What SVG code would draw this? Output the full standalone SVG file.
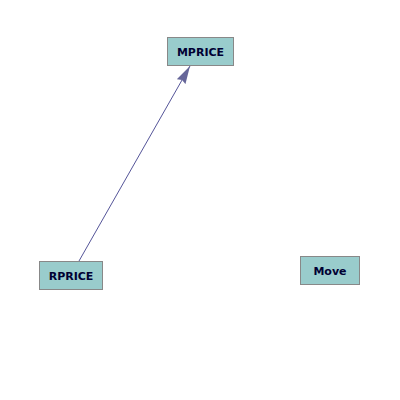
<svg xmlns="http://www.w3.org/2000/svg" width="400" height="400" viewBox="0 0 400 400">
<style>
.n rect{fill:#99cccc;stroke:#888;stroke-width:1}
.n text{font-family:"DejaVu Sans",sans-serif;font-weight:bold;font-size:11px;fill:#000033;text-anchor:middle}
.c{stroke:#555599;stroke-width:1;fill:none}
</style>
<defs>
<marker id="a" viewBox="0 0 18 10" refX="18" refY="5" markerWidth="18" markerHeight="10" markerUnits="userSpaceOnUse" orient="auto">
<path d="M0,0 L18,5 L0,10 L2,5 z" fill="#666699"/>
</marker>
</defs>
<rect width="400" height="400" fill="#fff"/>
<g id="connectors">
<line class="c" x1="79" y1="261" x2="190" y2="66" marker-end="url(#a)"/>
</g>
<g id="MPRICE" class="n"><rect x="167.5" y="37.5" width="66" height="28"/><text x="200.5" y="55.5">MPRICE</text></g>
<g id="RPRICE" class="n"><rect x="39.5" y="261.5" width="63" height="28"/><text x="71" y="279.5">RPRICE</text></g>
<g id="Move" class="n"><rect x="300.5" y="256.5" width="59" height="28"/><text x="330" y="274.5">Move</text></g>
</svg>
